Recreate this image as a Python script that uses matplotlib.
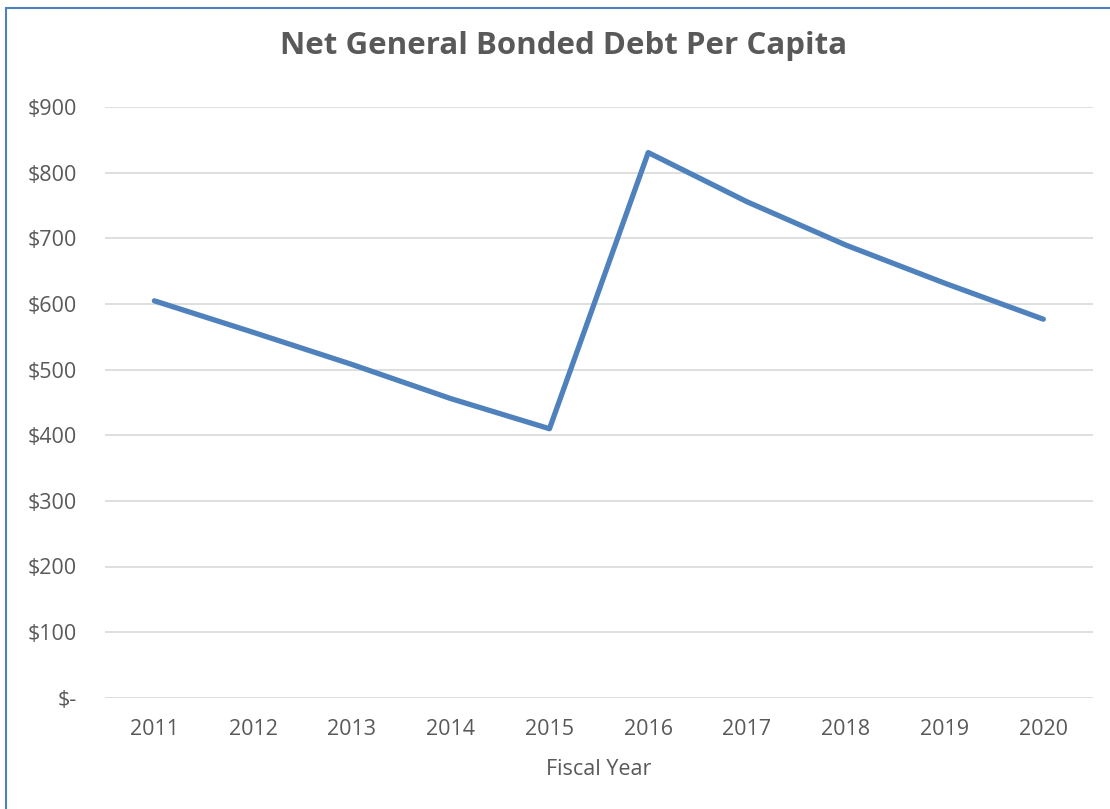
import matplotlib
matplotlib.use("Agg")
import matplotlib.pyplot as plt
from matplotlib.patches import Rectangle
from matplotlib.ticker import FuncFormatter

years = ["2011", "2012", "2013", "2014", "2015", "2016", "2017", "2018", "2019", "2020"]
debt_per_capita = [605, 557, 508, 456, 410, 831, 756, 690, 632, 577]
y_ticks = [0, 100, 200, 300, 400, 500, 600, 700, 800, 900]

plt.rcParams['font.family'] = ['Open Sans', 'DejaVu Sans']
text_color = '#595959'

W, H = 1110, 809
fig = plt.figure(figsize=(W / 100, H / 100), dpi=100)
fig.patch.set_facecolor('white')

left_px, right_px = 105, 1092.7
top_px, bottom_px = 107.3, 697.7
ax = fig.add_axes([left_px / W, 1 - bottom_px / H, (right_px - left_px) / W, (bottom_px - top_px) / H])

x = list(range(len(years)))
ax.plot(x, debt_per_capita, color='#4F81BD', lw=3.8, solid_capstyle='round', solid_joinstyle='round', zorder=3)

ax.set_xlim(-0.5, len(years) - 0.5)
ax.set_ylim(0, 900)
ax.set_yticks(y_ticks)
ax.yaxis.set_major_formatter(FuncFormatter(lambda v, p: "$-" if v == 0 else f"${int(v)}"))
ax.set_xticks(x)
ax.set_xticklabels(years)

ax.grid(axis='y', color='#D9D9D9', lw=1.2, zorder=0)
ax.set_axisbelow(True)
for s in ax.spines.values():
    s.set_visible(False)
ax.tick_params(axis='both', length=0, labelsize=15.5, colors=text_color)
ax.tick_params(axis='y', pad=20)
ax.tick_params(axis='x', pad=15)

ax.set_xlabel("Fiscal Year", fontsize=15.5, color=text_color, labelpad=14)

fig.text(563.5 / W, 1 - 46 / H, "Net General Bonded Debt Per Capita", ha='center', va='center',
         fontsize=22.5, fontweight='bold', color=text_color)

# chart border (extends past right/bottom edges)
fig.add_artist(Rectangle((6 / W, -0.05), 1.2, 1 - 8 / H + 0.05, transform=fig.transFigure,
                         fill=False, edgecolor='#4F81BD', lw=1.5))

fig.savefig("out.png", dpi=100, facecolor='white')
